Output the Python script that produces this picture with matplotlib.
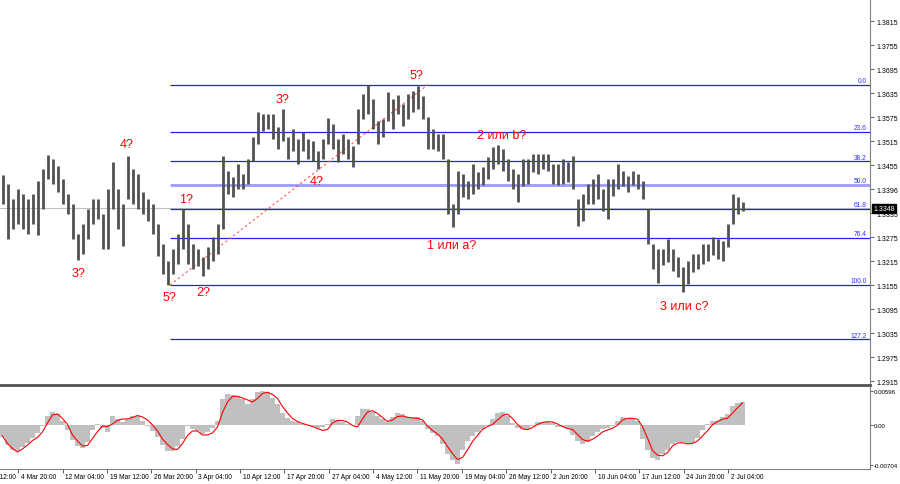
import numpy as np
import matplotlib
matplotlib.use("Agg")
import matplotlib.pyplot as plt

plt.rcParams['font.family'] = ['Liberation Sans', 'DejaVu Sans']

# price bars, one per 5px slot (high / low)
highs = [1.3431, 1.3409, 1.3371, 1.3396, 1.3384, 1.3371, 1.3384, 1.3416, 1.3446, 1.3481,
         1.3471, 1.3454, 1.3421, 1.3384, 1.3359, 1.3284, 1.3309, 1.3346, 1.3371, 1.3371,
         1.3334, 1.3396, 1.3464, 1.3396, 1.3359, 1.3479, 1.3446, 1.3434, 1.3389, 1.3371,
         1.3359, 1.3309, 1.3259, 1.3216, 1.3246, 1.3284, 1.3346, 1.3309, 1.3259, 1.3246,
         1.3226, 1.3251, 1.3276, 1.3309, 1.3479, 1.3441, 1.3426, 1.3459, 1.3434, 1.3471,
         1.3526, 1.3589, 1.3584, 1.3584, 1.3584, 1.3551, 1.3596, 1.3526, 1.3546, 1.3521,
         1.3539, 1.3521, 1.3516, 1.3491, 1.3521, 1.3574, 1.3559, 1.3521, 1.3534, 1.3521,
         1.3504, 1.3596, 1.3634, 1.3656, 1.3621, 1.3566, 1.3571, 1.3639, 1.3621, 1.3631,
         1.3609, 1.3634, 1.3641, 1.3654, 1.3629, 1.3576, 1.3546, 1.3534, 1.3534, 1.3471,
         1.3359, 1.3441, 1.3434, 1.3416, 1.3459, 1.3439, 1.3451, 1.3476, 1.3501, 1.3506,
         1.3496, 1.3471, 1.3446, 1.3434, 1.3471, 1.3471, 1.3484, 1.3484, 1.3484, 1.3484,
         1.3459, 1.3459, 1.3471, 1.3464, 1.3479, 1.3371, 1.3384, 1.3409, 1.3421, 1.3434,
         1.3396, 1.3421, 1.3421, 1.3459, 1.3441, 1.3429, 1.3441, 1.3434, 1.3416, 1.3346,
         1.3259, 1.3246, 1.3246, 1.3271, 1.3246, 1.3226, 1.3201, 1.3216, 1.3234, 1.3234,
         1.3259, 1.3259, 1.3276, 1.3271, 1.3266, 1.3309, 1.3384, 1.3376, 1.3364]
lows = [1.3359, 1.3271, 1.3296, 1.3309, 1.3296, 1.3284, 1.3309, 1.3281, 1.3346, 1.3421,
        1.3409, 1.3389, 1.3359, 1.3334, 1.3271, 1.3219, 1.3234, 1.3271, 1.3309, 1.3321,
        1.3246, 1.3246, 1.3346, 1.3296, 1.3254, 1.3371, 1.3359, 1.3346, 1.3334, 1.3316,
        1.3284, 1.3229, 1.3184, 1.3156, 1.3184, 1.3209, 1.3246, 1.3209, 1.3196, 1.3204,
        1.3179, 1.3196, 1.3216, 1.3234, 1.3296, 1.3384, 1.3376, 1.3396, 1.3396, 1.3409,
        1.3466, 1.3509, 1.3541, 1.3546, 1.3521, 1.3496, 1.3516, 1.3471, 1.3491, 1.3459,
        1.3491, 1.3471, 1.3466, 1.3446, 1.3471, 1.3509, 1.3496, 1.3464, 1.3484, 1.3471,
        1.3451, 1.3509, 1.3571, 1.3584, 1.3546, 1.3509, 1.3526, 1.3566, 1.3546, 1.3584,
        1.3554, 1.3571, 1.3589, 1.3596, 1.3571, 1.3496, 1.3496, 1.3491, 1.3471, 1.3334,
        1.3301, 1.3334, 1.3376, 1.3371, 1.3384, 1.3396, 1.3406, 1.3421, 1.3446, 1.3459,
        1.3441, 1.3416, 1.3396, 1.3364, 1.3404, 1.3409, 1.3439, 1.3434, 1.3446, 1.3441,
        1.3409, 1.3406, 1.3409, 1.3414, 1.3396, 1.3304, 1.3316, 1.3359, 1.3359, 1.3371,
        1.3341, 1.3321, 1.3379, 1.3396, 1.3404, 1.3389, 1.3406, 1.3396, 1.3371, 1.3259,
        1.3196, 1.3161, 1.3206, 1.3214, 1.3191, 1.3176, 1.3139, 1.3159, 1.3189, 1.3196,
        1.3209, 1.3216, 1.3231, 1.3221, 1.3216, 1.3251, 1.3309, 1.3334, 1.3341]

# oscillator (x 1e-4): gray histogram and red signal line
osma = [-21.4, -35.6, -44.5, -46.3, -40.1, -32.1, -23.2, -14.2, -1.8, 16.0,
        22.6, 19.6, 7.1, -8.9, -26.7, -37.4, -41.0, -30.3, -8.9, 0.9,
        -5.3, -12.5, 16.0, 10.7, 5.3, 10.7, 16.0, 16.6, 7.1, -1.8,
        -11.6, -21.4, -35.6, -46.3, -46.3, -37.4, -24.9, -1.8, -7.1, -10.7,
        -16.0, -12.5, -5.3, 7.1, 46.3, 55.2, 52.5, 50.8, 46.3, 37.4,
        45.4, 58.8, 60.2, 57.9, 48.1, 36.5, 20.5, 12.8, 6.8, 4.5,
        0.9, -0.9, -2.7, -6.2, -3.6, 1.8, 9.8, 8.9, 5.3, 1.8,
        -0.9, 16.0, 28.5, 28.5, 23.2, 16.0, 10.7, 5.3, 13.4, 20.5,
        19.6, 14.2, 13.7, 13.7, 7.1, -7.1, -15.1, -19.6, -33.8, -51.6,
        -62.3, -69.5, -44.5, -29.4, -19.6, -12.5, -7.1, -1.8, 9.8, 20.5,
        23.2, 16.4, 2.7, -5.0, -7.1, -7.1, -1.8, 4.8, 5.9, 4.8,
        2.7, -4.1, -4.1, -6.8, -17.8, -28.5, -33.5, -30.3, -19.6, -12.5,
        -7.1, -5.3, -2.7, 6.2, 13.4, 11.9, 10.7, 7.1, -24.9, -44.5,
        -59.7, -61.8, -52.5, -44.9, -34.7, -30.8, -31.2, -33.8, -31.7, -22.8,
        -8.9, 1.8, 7.7, 7.7, 13.4, 19.9, 32.9, 39.5, 40.4]
signal = [-19.6, -32.9, -41.9, -48.1, -42.7, -35.6, -27.6, -22.3, -12.5, 3.6,
          17.8, 19.6, 11.6, 0.9, -17.8, -28.5, -37.4, -36.5, -24.0, -11.6,
          -1.8, -2.7, 1.8, 8.0, 10.7, 10.7, 13.4, 16.9, 14.2, 8.9,
          0.0, -10.7, -24.9, -34.7, -42.7, -43.6, -32.9, -18.7, -10.7, -10.7,
          -17.8, -17.8, -14.2, -3.6, 22.3, 41.0, 51.1, 51.1, 48.1, 44.5,
          41.0, 47.2, 56.1, 58.2, 54.3, 47.2, 32.9, 21.4, 11.6, 6.2,
          2.7, 0.0, -2.7, -6.2, -9.8, -8.0, 3.6, 8.0, 8.0, 5.3,
          -0.9, -3.6, 10.7, 23.2, 25.5, 20.5, 13.4, 6.2, 8.9, 15.1,
          16.0, 13.7, 12.5, 11.9, 8.9, -1.8, -9.8, -16.0, -24.9, -38.3,
          -50.8, -61.4, -57.9, -44.5, -29.4, -18.7, -8.0, -2.7, 0.9, 8.9,
          16.9, 19.6, 11.6, 0.9, -6.8, -8.4, -4.5, 0.9, 4.5, 5.9,
          5.3, 1.8, -2.7, -6.2, -8.0, -16.9, -25.8, -29.0, -25.5, -19.6,
          -12.5, -8.9, -5.9, -0.5, 8.9, 11.9, 11.9, 10.3, -2.7, -23.2,
          -45.4, -53.8, -54.9, -49.3, -37.4, -32.1, -31.7, -33.8, -32.9, -28.5,
          -19.6, -10.3, 0.4, 6.2, 10.3, 12.1, 21.0, 30.6, 39.2]

date_labels = ['26 Feb 12:00', '4 Mar 20:00', '12 Mar 04:00', '19 Mar 12:00', '26 Mar 20:00',
               '3 Apr 04:00', '10 Apr 12:00', '17 Apr 20:00', '27 Apr 04:00', '4 May 12:00',
               '11 May 20:00', '19 May 04:00', '26 May 12:00', '2 Jun 20:00', '10 Jun 04:00',
               '17 Jun 12:00', '24 Jun 20:00', '2 Jul 04:00']
price_ticks = [1.3875, 1.3815, 1.3755, 1.3695, 1.3635, 1.3575, 1.3515, 1.3455, 1.3395, 1.3335,
               1.3275, 1.3215, 1.3155, 1.3095, 1.3035, 1.2975, 1.2915]
price_tick_labels = ['1.3875', '1.3815', '1.3755', '1.3695', '1.3635', '1.3575', '1.3515',
                     '1.3455', '1.3396', '1.3335', '1.3275', '1.3215', '1.3155', '1.3095',
                     '1.3035', '1.2975', '1.2915']
fib_levels = [0.0, 23.6, 38.2, 50.0, 61.8, 76.4, 100.0, 127.2]
fib_high, fib_low = 1.3656, 1.3156
fib_start, fib_end = 33.5, 85.1
last_price = 1.3348

waves = [('3?', 15.3, 1.3186), ('4?', 24.9, 1.3509), ('1?', 36.7, 1.3371),
         ('5?', 33.3, 1.3126), ('2?', 40.1, 1.3138), ('3?', 56.1, 1.3620),
         ('4?', 62.9, 1.3417), ('5?', 82.8, 1.3682), ('2 или b?', 99.8, 1.3532),
         ('1 или a?', 89.9, 1.3257), ('3 или c?', 136.3, 1.3103)]

x = np.arange(len(highs))
osma = np.array(osma) * 1e-4
signal = np.array(signal) * 1e-4

W, H = 900, 485
fig = plt.figure(figsize=(W / 100, H / 100), dpi=100)
ax = fig.add_axes([0, 1 - 386 / H, 870 / W, 386 / H])
ax2 = fig.add_axes([0, 1 - 470 / H, 870 / W, 82 / H])

xmin, xmax = -0.5, 173.5
ymin, ymax = 1.2906, 1.3871
ax.set_xlim(xmin, xmax)
ax.set_ylim(ymin, ymax)

# current price line
ax.axhline(last_price, color='#c0c0c0', lw=0.8, zorder=1)

# fibonacci grid
rng = fib_high - fib_low
for lvl in fib_levels:
    p = fib_high - lvl / 100 * rng
    if lvl == 50.0:
        ax.hlines(p, fib_start, xmax, color='#9a9aff', lw=2.0, zorder=2)
    else:
        ax.hlines(p, fib_start, xmax, color='#2020ff', lw=0.9, zorder=2)
    ax.text(172.8, p + 0.0002, f'{lvl:.1f}', ha='right', va='bottom',
            fontsize=4.8, color='#3030ff')
ax.plot([fib_start, fib_end], [fib_low, fib_high + 0.0001], color='#ff5050',
        lw=0.8, ls=(0, (2, 2.5)), zorder=2)

# price bars
ax.vlines(x, lows, highs, color='#525252', lw=2.0, zorder=3)

for txt, xi, yi in waves:
    ax.text(xi, yi, txt, color='#ff0000', fontsize=9, ha='center', va='center', zorder=4)

ax.yaxis.tick_right()
ax.set_yticks(price_ticks)
ax.set_yticklabels(price_tick_labels)
ax.set_ylim(ymin, ymax)
ax.tick_params(axis='y', direction='out', length=3, width=0.6, color='#404040',
               labelsize=5.0, pad=2)
ax.set_xticks([])
for s in ['top', 'left']:
    ax.spines[s].set_visible(False)
ax.spines['right'].set_color('#808080')
ax.spines['bottom'].set_color('#505050')
ax.spines['bottom'].set_linewidth(2)

ax.annotate(f'{last_price:.4f}', xy=(1, last_price), xycoords=('axes fraction', 'data'),
            xytext=(2.5, 0), textcoords='offset points', ha='left', va='center',
            fontsize=5.0, color='white',
            bbox=dict(boxstyle='square,pad=0.15', fc='black', ec='black'),
            annotation_clip=False, zorder=6)

# oscillator panel
ax2.set_xlim(xmin, xmax)
ax2.set_ylim(-0.00784, 0.00676)
ax2.bar(x, osma, width=1.0, color='#c0c0c0', lw=0, zorder=2)
ax2.plot(x, signal, color='#ff0000', lw=0.8, zorder=3)
ax2.yaxis.tick_right()
ax2.set_yticks([0.00596, 0.0, -0.00704])
ax2.set_yticklabels(['0.00596', '0.00', '-0.00704'])
ax2.tick_params(axis='y', direction='out', length=2, width=0.6, color='#404040',
                labelsize=4.4, pad=1)
for s in ['top', 'left']:
    ax2.spines[s].set_visible(False)
ax2.spines['right'].set_color('#808080')
ax2.spines['bottom'].set_color('#808080')

tick_pos = 3.16 + 8.87 * (np.arange(len(date_labels)) - 1)
ax2.set_xticks(tick_pos[1:])
ax2.set_xticklabels([])
ax2.tick_params(axis='x', direction='out', length=3, width=0.6, color='#404040')
for pos, lbl in zip(tick_pos, date_labels):
    ax2.annotate(lbl, xy=(pos, 0), xycoords=('data', 'axes fraction'),
                 xytext=(2, -3), textcoords='offset points', ha='left', va='top',
                 fontsize=4.8, annotation_clip=False)

fig.savefig('out.png', dpi=100)
